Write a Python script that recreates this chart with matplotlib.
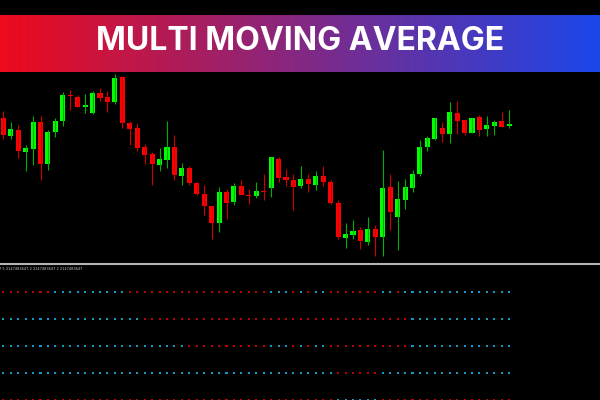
import numpy as np
import matplotlib
matplotlib.use('Agg')
import matplotlib.pyplot as plt

# candle data (arbitrary price units)
opens = [144.3, 126.3, 132.3, 110.3, 113.3, 140, 98.3, 129.7, 141.3, 167, 165, 154.7, 149.3, 169,
         165, 160.3, 185, 139, 134, 115, 107.7, 97.3, 102.3, 115, 86.3, 94, 79, 68.3, 55.7, 39.3,
         70, 60, 76, 67.3, 66, 71.3, 74.3, 103, 85.3, 82.3, 75.7, 83, 77.3, 86, 80, 59, 24.3, 27,
         32, 20.3, 33, 25, 74.7, 45.3, 62.3, 74, 88, 114.7, 123.3, 134, 128, 148.7, 141.7, 129.3,
         145, 132.7, 136.3, 140.7, 136]
closes = [127, 133, 111, 114, 140, 98.3, 130.3, 141, 167, 166, 155.3, 157.3, 169.3, 164.3,
          160.3, 184, 139, 133.3, 114.3, 107, 98.3, 102.7, 115, 87, 93.7, 79, 68, 55.7, 39.3, 69.7,
          59, 76, 67.3, 66.3, 71, 70.3, 105, 84.3, 82, 75, 83.3, 78, 85.7, 80, 59, 25, 27.7, 31.3,
          21, 33, 25, 74, 49.7, 63, 74.7, 88, 115, 124, 144, 128, 150.3, 141, 128.7, 144, 132.3,
          137, 140, 135.3, 138.3]
highs = [151, 140, 137.3, 117, 146, 146, 131.7, 144, 170, 172, 166.7, 167.7, 171, 174, 171, 188,
         186, 140.7, 139.3, 118.3, 110, 114, 141, 127, 99, 96.3, 80, 76.7, 55.7, 75, 73.3, 79, 82,
         73.3, 80, 88.3, 105, 105, 92.7, 88.3, 96, 88, 90.7, 96, 81.7, 61.7, 39, 41.7, 35, 44.7,
         36.7, 112, 88, 81.3, 83, 92.3, 122, 126, 144, 140, 160.3, 161, 141.7, 144, 146.7, 146,
         142.3, 150, 152.3]
lows = [123, 123.3, 104.3, 91, 96.7, 82.3, 92, 125.3, 136, 152.3, 155.3, 149.3, 148, 161, 150.3,
        158.3, 134.3, 117.3, 111.3, 98.3, 77, 91.3, 94.3, 82.3, 76.7, 77.3, 66.7, 46.7, 23.3,
        30.3, 43.3, 56.7, 66.7, 58.3, 64, 62.3, 65, 80, 76, 52.3, 73.7, 70, 72, 76.3, 58.3, 22.7,
        14.3, 23.3, 13.3, 17.3, 6.3, 6, 32.3, 12.3, 53, 70, 86.3, 111.3, 122, 120, 119, 128, 126.7,
        129.3, 125.7, 126, 127, 135, 134.3]

# multi MA trend dots: R = down, C = up
ma_rows = [
    "RRRRRRR" + "C" * 10 + "R" * 19 + "CCC" + "R" + "C" + "R" + "CC" + "R" * 7 + "CC" + "R" + "C" * 15,
    "C" * 19 + "R" * 36 + "C" * 14,
    "C" * 25 + "R" * 11 + "CCC" + "R" + "C" + "R" + "CC" + "R" * 11 + "C" * 14,
    "C" * 45 + "R" * 6 + "C" * 18,
    "R" * 45 + "C" * 6 + "R" * 18,
]
info_text = "7 5 2147483647 2 2147483647 2 2147483647"
title = "MULTI MOVING AVERAGE"

W, H = 600, 400
fig = plt.figure(figsize=(6, 4), dpi=100, facecolor='black')

# banner with red -> blue gradient
ban = fig.add_axes([0, (H - 72) / H, 1, 57 / H])
grad = np.linspace(0, 1, 256)
c0 = np.array([238, 10, 28]) / 255
c1 = np.array([26, 70, 234]) / 255
img = (c0[None, :] * (1 - grad[:, None]) + c1[None, :] * grad[:, None])[None, :, :]
ban.imshow(img, aspect='auto', extent=(0, 1, 0, 1))
ban.set_xlim(0, 1)
ban.set_ylim(0, 1)
ban.axis('off')
ban.text(0.5, 0.53, title, color='white', fontsize=23, fontweight='bold',
         family='Inter', ha='center', va='center')

# candle chart
step = 7.44
x0 = 3.3
ax = fig.add_axes([0, (H - 262) / H, 1, 190 / H], facecolor='black')
ax.set_xlim(-x0 / step, (W - x0) / step)
ax.set_ylim(0, 190)
ax.axis('off')
n = len(opens)
idx = np.arange(n)
o = np.array(opens)
c = np.array(closes)
up = c >= o
body_col = np.where(up, '#00ff00', '#ff0000')
wick_col = np.where(up, '#00b000', '#d00000')
ax.vlines(idx, lows, highs, colors=wick_col, linewidth=0.8)
bottom = np.minimum(o, c)
height = np.maximum(np.abs(c - o), 1.2)
ax.bar(idx, height, bottom=bottom, width=0.68, color=body_col, edgecolor='none')

# separator
fig.add_artist(plt.Line2D([0, 1], [(H - 264) / H] * 2, color='#b4b4b4', linewidth=1.5))
fig.text(-0.002, (H - 268.7) / H, info_text, color='#c8c8c8', fontsize=2.6,
         ha='left', va='center')

# indicator panel
ind = fig.add_axes([0, 0, 1, 136 / H], facecolor='black')
ind.set_xlim(-x0 / step, (W - x0) / step)
ind.set_ylim(5.011, -0.026)
ind.axis('off')
colmap = {'R': '#c00000', 'C': '#1898c4'}
for k, row in enumerate(ma_rows):
    cols = [colmap[ch] for ch in row]
    ind.scatter(np.arange(len(row)), np.full(len(row), k + 1), s=2.2, marker='s',
                c=cols, linewidths=0, clip_on=True)

fig.savefig('out.png', dpi=100, facecolor='black')
